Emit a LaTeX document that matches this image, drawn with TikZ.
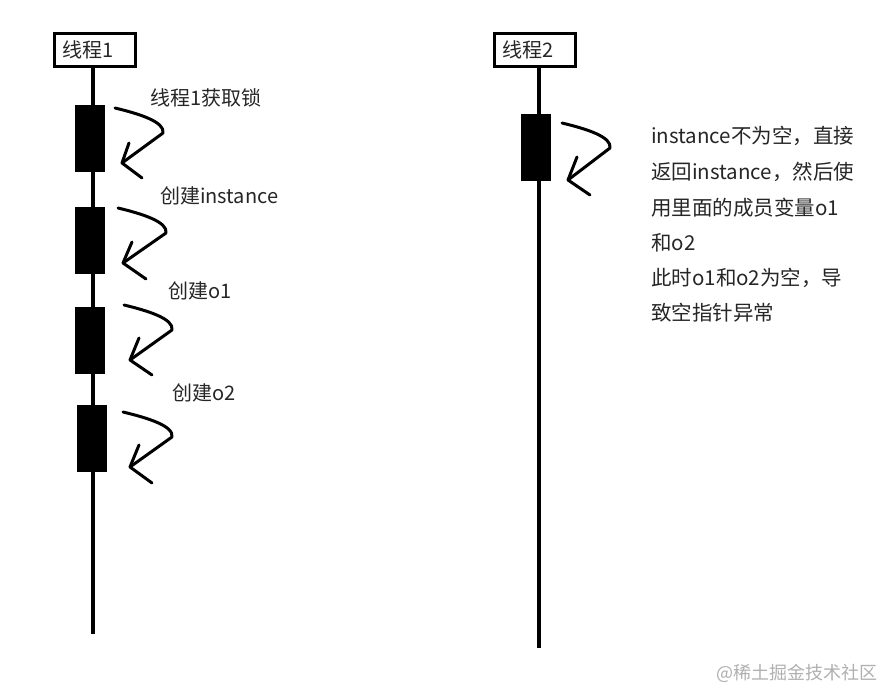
\documentclass[tikz,border=0pt]{standalone}
\usepackage{fontspec}
\setmainfont{Noto Sans CJK SC}
\definecolor{txt}{HTML}{262626}
\definecolor{wm}{HTML}{B0B0B0}
\begin{document}
\begin{tikzpicture}[x=1pt,y=-1pt,
  thread/.style={draw, line width=3pt, minimum width=81pt, minimum height=33pt,
    text width=65pt, align=left, inner xsep=8pt, inner ysep=0pt,
    font=\fontsize{20}{22}\selectfont, text=txt},
  act/.style={fill=black, minimum width=30pt, minimum height=67pt, inner sep=0pt},
  life/.style={line width=3.5pt},
  hand/.style={line width=3pt, line cap=round, line join=round},
  lbl/.style={anchor=base west, inner sep=0pt, font=\fontsize{20}{22}\selectfont, text=txt},
  note/.style={anchor=base west, inner sep=0pt, font=\fontsize{20.5}{22}\selectfont, text=txt}]
\useasboundingbox (0,0) rectangle (884,690);
\fill[white] (0,0) rectangle (884,690);

% thread 1
\node[thread] (T1) at (95,50) {线程1};
\coordinate (E1) at (93,634);
\draw[life] (T1.south -| E1) -- (E1);
\node[act] (A1) at (90,138.5) {};
\node[act] (A2) at (90,240.5) {};
\node[act] (A3) at (90,340.5) {};
\node[act] (A4) at (92,438.5) {};

% thread 2
\node[thread] (T2) at (535,50) {线程2};
\coordinate (E2) at (539,648);
\draw[life] (T2.south -| E2) -- (E2);
\node[act] (B1) at (535.5,147.5) {};

% self arrows
\draw[hand] (115,108) .. controls (140,114) and (165,122) .. (163,133) -- (122,163);
\draw[hand] (129,143) -- (122,163) -- (142,178);

\draw[hand] (118,208) .. controls (143,214) and (168,222) .. (166,233) -- (123,263);
\draw[hand] (132,242) -- (123,263) -- (146,279);

\draw[hand] (124,305) .. controls (149,311) and (174,319) .. (172,330) -- (130,360);
\draw[hand] (139,338) -- (130,360) -- (152,375);

\draw[hand] (123,412) .. controls (148,418) and (174,426) .. (172,437) -- (130,467);
\draw[hand] (139,445) -- (130,467) -- (152,483);

\draw[hand] (562,123) .. controls (587,129) and (612,137) .. (610,148) -- (568,180);
\draw[hand] (577,157) -- (568,180) -- (590,195);

% labels
\node[lbl] (L1) at (150,106) {线程1获取锁};
\node[lbl] (L2) at (160,204) {创建instance};
\node[lbl] (L3) at (168,298) {创建o1};
\node[lbl] (L4) at (172,400) {创建o2};

\node[note] (N1) at (651,144) {instance不为空，直接};
\node[note] (N2) at (651,179) {返回instance，然后使};
\node[note] (N3) at (651,215) {用里面的成员变量o1};
\node[note] (N4) at (651,250) {和o2};
\node[note] (N5) at (651,285) {此时o1和o2为空，导};
\node[note] (N6) at (651,320) {致空指针异常};

\node[anchor=base west, inner sep=0pt, font=\fontsize{18}{20}\selectfont, text=wm] (W) at (716,679) {@稀土掘金技术社区};
\end{tikzpicture}
\end{document}
